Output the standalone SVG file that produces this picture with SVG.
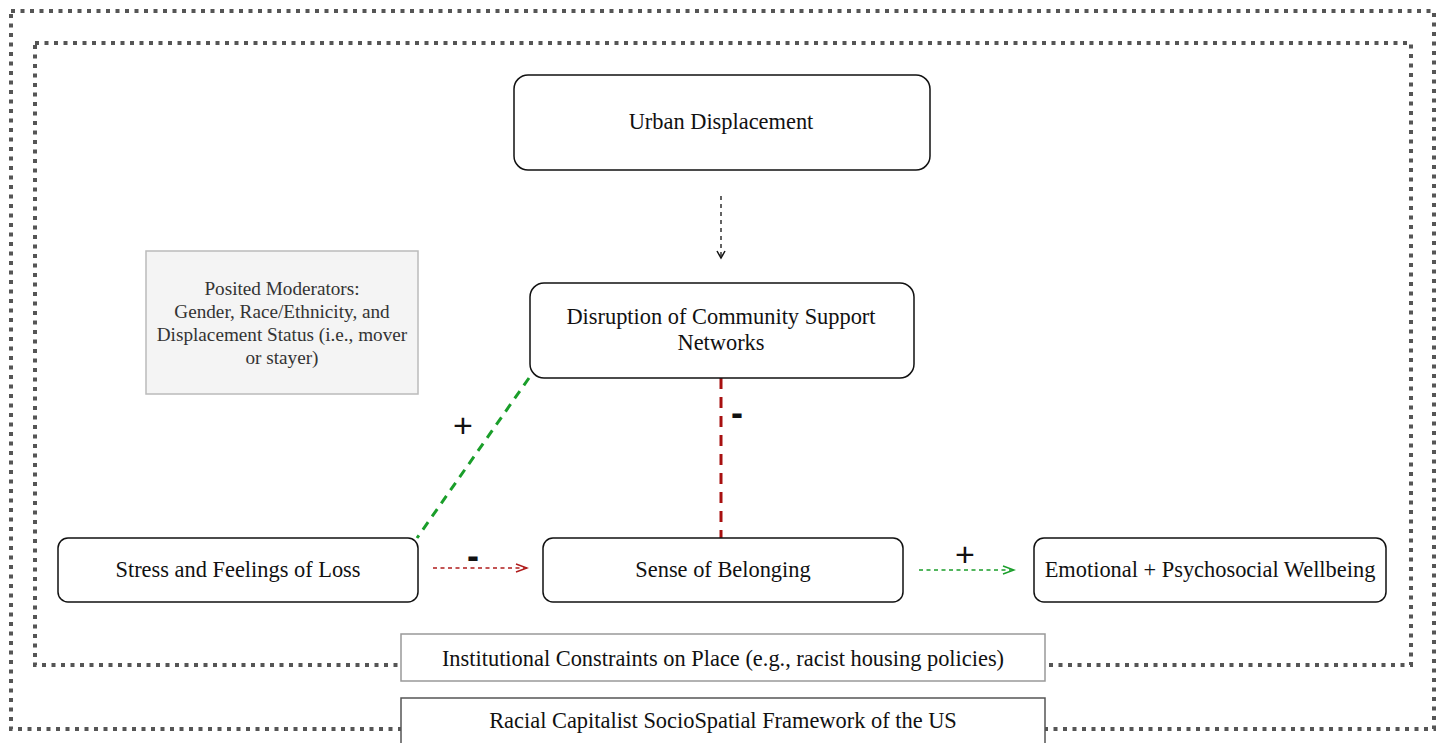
<svg xmlns="http://www.w3.org/2000/svg" width="1443" height="743" viewBox="0 0 1443 743">
<style>
text{font-family:"Liberation Serif","Times New Roman",serif;fill:#111;text-anchor:middle;dominant-baseline:central}
.t{font-size:22.4px}
.m{font-size:19.2px;fill:#333}
.node{fill:#fff;stroke:#111;stroke-width:1.5}
.frame{fill:none;stroke:#555;stroke-width:4;stroke-dasharray:4 5.5}
.sign{font-family:"Liberation Sans",Arial,sans-serif;font-size:34px}
.minus{font-family:"Liberation Sans",Arial,sans-serif;font-size:36px;font-weight:bold}
</style>
<defs>
<marker id="ab" markerWidth="10" markerHeight="10" refX="8" refY="5" orient="auto" markerUnits="userSpaceOnUse"><path d="M1,1 L8,5 L1,9" fill="none" stroke="#111" stroke-width="1.5"/></marker>
<marker id="ar" markerWidth="14" markerHeight="10" refX="12" refY="5" orient="auto" markerUnits="userSpaceOnUse"><path d="M1,1 L12,5 L1,9" fill="none" stroke="#b01c1c" stroke-width="1.5"/></marker>
<marker id="ag" markerWidth="14" markerHeight="10" refX="12" refY="5" orient="auto" markerUnits="userSpaceOnUse"><path d="M1,1 L12,5 L1,9" fill="none" stroke="#1a9e2a" stroke-width="1.5"/></marker>
</defs>
<rect width="1443" height="743" fill="#fff"/>
<g id="frames">
<rect class="frame" x="11" y="11" width="1423" height="718"/>
<rect class="frame" x="35" y="43" width="1376" height="622"/>
</g>
<g id="connectors">
<line x1="721" y1="196" x2="721" y2="258" stroke="#111" stroke-width="1.3" stroke-dasharray="4 4" marker-end="url(#ab)"/>
<line x1="529" y1="378" x2="417" y2="538" stroke="#1a9e2a" stroke-width="3" stroke-dasharray="9 7"/>
<line x1="721" y1="378" x2="721" y2="538" stroke="#a81010" stroke-width="3" stroke-dasharray="11 8"/>
<line x1="433" y1="568" x2="527" y2="568" stroke="#b01c1c" stroke-width="1.3" stroke-dasharray="4 3.5" marker-end="url(#ar)"/>
<line x1="919" y1="570" x2="1014" y2="570" stroke="#1a9e2a" stroke-width="1.3" stroke-dasharray="4 3.5" marker-end="url(#ag)"/>
<text class="sign" x="463" y="425">+</text>
<text class="minus" x="737" y="412">-</text>
<text class="minus" x="473" y="555">-</text>
<text class="sign" x="965" y="554">+</text>
</g>
<g id="urban"><rect class="node" x="514" y="75" width="416" height="95" rx="14"/><text class="t" x="721" y="121">Urban Displacement</text></g>
<g id="disruption"><rect class="node" x="530" y="283" width="384" height="95" rx="14"/><text class="t" x="721" y="316">Disruption of Community Support</text><text class="t" x="721" y="342">Networks</text></g>
<g id="moderators"><rect x="146" y="251" width="272" height="143" fill="#f4f4f4" stroke="#bbb" stroke-width="1.5"/>
<text class="m" x="282" y="288">Posited Moderators:</text>
<text class="m" x="282" y="311">Gender, Race/Ethnicity, and</text>
<text class="m" x="282" y="334">Displacement Status (i.e., mover</text>
<text class="m" x="282" y="357">or stayer)</text></g>
<g id="stress"><rect class="node" x="58" y="538" width="360" height="64" rx="10"/><text class="t" x="238" y="569">Stress and Feelings of Loss</text></g>
<g id="belonging"><rect class="node" x="543" y="538" width="360" height="64" rx="10"/><text class="t" x="723" y="569">Sense of Belonging</text></g>
<g id="wellbeing"><rect class="node" x="1034" y="538" width="352" height="64" rx="10"/><text class="t" x="1210" y="569">Emotional + Psychosocial Wellbeing</text></g>
<g id="institutional"><rect x="401" y="634" width="644" height="47" fill="#fff" stroke="#999" stroke-width="1.5"/><text class="t" x="723" y="658">Institutional Constraints on Place (e.g., racist housing policies)</text></g>
<g id="racial"><rect x="401" y="698" width="644" height="60" fill="#fff" stroke="#555" stroke-width="1.5"/><text class="t" x="723" y="720">Racial Capitalist SocioSpatial Framework of the US</text></g>
</svg>
